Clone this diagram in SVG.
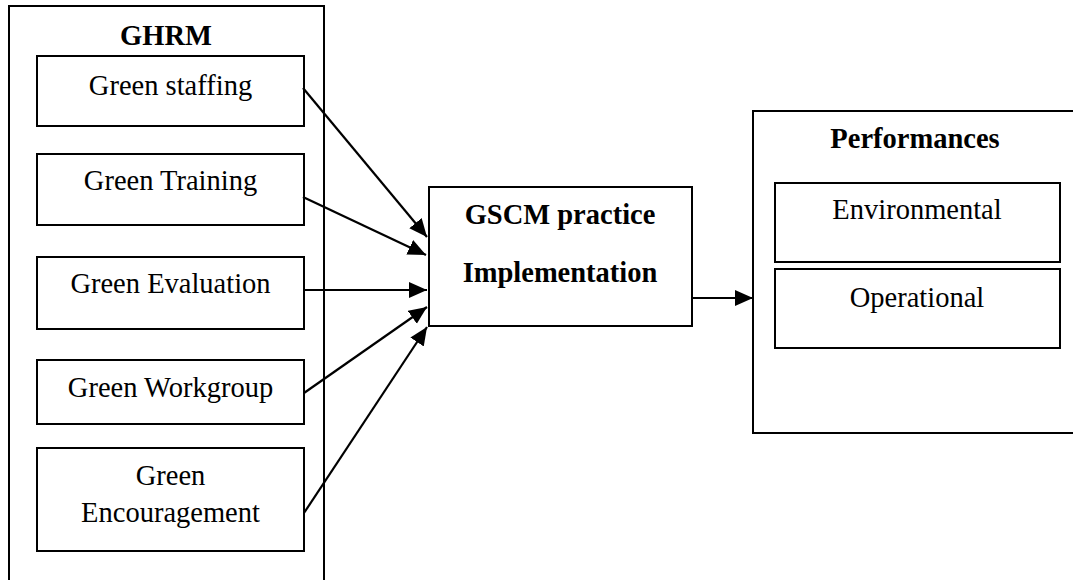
<svg xmlns="http://www.w3.org/2000/svg" width="1073" height="580" viewBox="0 0 1073 580">
<style>
.box{fill:#fff;stroke:#000;stroke-width:2}
.t{font-family:"Liberation Serif","Times New Roman",serif;font-size:28.5px;fill:#000;text-anchor:middle}
.b{font-weight:bold}
.c{stroke:#000;stroke-width:2.2;fill:none;marker-end:url(#ah)}
</style>
<defs>
<marker id="ah" markerUnits="userSpaceOnUse" markerWidth="20" markerHeight="18" refX="18" refY="8" orient="auto">
<path d="M0,0 L18,8 L0,16 Z" fill="#000"/>
</marker>
</defs>
<rect width="1073" height="580" fill="#fff"/>
<g id="ghrm">
<rect class="box" x="9" y="6" width="315" height="590"/>
<text class="t b" x="166" y="45">GHRM</text>
</g>
<g id="green-staffing">
<rect class="box" x="37" y="56" width="267" height="70"/>
<text class="t" x="170.5" y="95">Green staffing</text>
</g>
<g id="green-training">
<rect class="box" x="37" y="154" width="267" height="71"/>
<text class="t" x="170.5" y="190">Green Training</text>
</g>
<g id="green-evaluation">
<rect class="box" x="37" y="257" width="267" height="72"/>
<text class="t" x="170.5" y="293">Green Evaluation</text>
</g>
<g id="green-workgroup">
<rect class="box" x="37" y="360" width="267" height="64"/>
<text class="t" x="170.5" y="397">Green Workgroup</text>
</g>
<g id="green-encouragement">
<rect class="box" x="37" y="448" width="267" height="103"/>
<text class="t" x="170.5" y="485">Green</text>
<text class="t" x="170.5" y="522">Encouragement</text>
</g>
<g id="gscm">
<rect class="box" x="429" y="187" width="263" height="139"/>
<text class="t b" x="560" y="224">GSCM practice</text>
<text class="t b" x="560" y="282">Implementation</text>
</g>
<g id="performances">
<rect class="box" x="753" y="111" width="330" height="322"/>
<text class="t b" x="915" y="148">Performances</text>
</g>
<g id="environmental">
<rect class="box" x="775" y="183" width="285" height="79"/>
<text class="t" x="917" y="219">Environmental</text>
</g>
<g id="operational">
<rect class="box" x="775" y="269" width="285" height="79"/>
<text class="t" x="917" y="307">Operational</text>
</g>
<g id="connectors">
<path class="c" d="M303,88 L427,237"/>
<path class="c" d="M303,197 L426,255"/>
<path class="c" d="M304,290 L427,290"/>
<path class="c" d="M304,393 L427,307"/>
<path class="c" d="M304,513 L427,327"/>
<path class="c" d="M692,298 L753,298"/>
</g>
</svg>
